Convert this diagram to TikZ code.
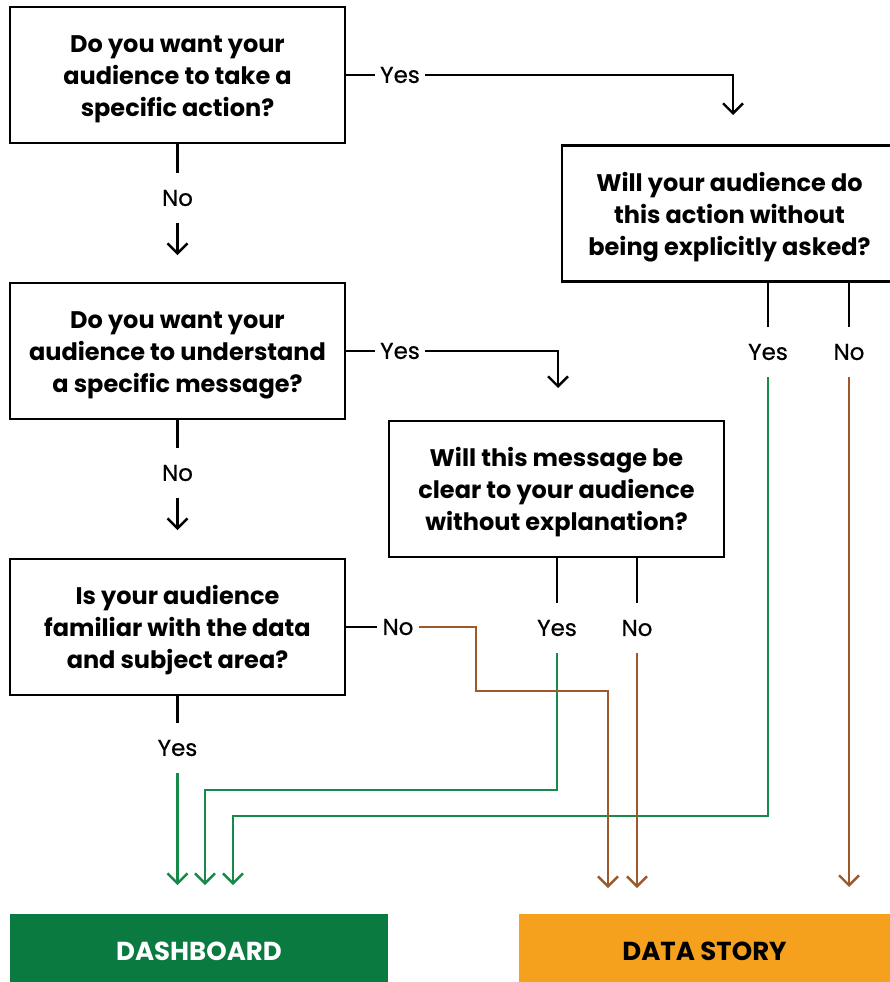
\documentclass[tikz,border=0pt]{standalone}
\usepackage{fontspec}
\setmainfont{Poppins}
\newfontfamily\lblfont{Poppins}[FakeBold=0.6]
\usetikzlibrary{arrows.meta}
\definecolor{dgreen}{HTML}{0A7A40}
\definecolor{lgreen}{HTML}{178A4A}
\definecolor{brownl}{HTML}{9C5A2C}
\definecolor{orangeb}{HTML}{F6A11E}
\newcommand{\toppad}{\rule{0pt}{26pt}}
\begin{document}
\begin{tikzpicture}[x=1pt,y=-1pt,
  qbox/.style={draw=black, line width=2.8pt, minimum width=335pt, minimum height=136pt,
    align=center, font=\fontsize{24}{32}\selectfont\bfseries, inner sep=0pt},
  lbl/.style={font=\lblfont\fontsize{23}{26}\selectfont, inner xsep=5pt, inner ysep=17pt},
  conn/.style={line width=2.4pt},
  arr/.style={conn, -{Straight Barb[length=10pt,width=20pt,line width=2.4pt]}},
  outbox/.style={minimum height=68pt, inner sep=0pt, font=\fontsize{26}{28}\selectfont\bfseries}]
\useasboundingbox (0,0) rectangle (890,982);

% question boxes
\node[qbox] (q1) at (177.5,75) {\toppad Do you want your\\audience to take a\\specific action?};
\node[qbox] (q2) at (177.5,351) {\toppad Do you want your\\audience to understand\\a specific message?};
\node[qbox] (q3) at (177.5,627) {\toppad Is your audience\\familiar with the data\\and subject area?};
\node[qbox] (q4) at (556.5,489) {\toppad Will this message be\\clear to your audience\\without explanation?};
\node[qbox] (q5) at (729.5,213.5) {\toppad Will your audience do\\this action without\\being explicitly asked?};

% outcome boxes
\node[outbox, fill=dgreen, minimum width=378pt, text=white] (dash) at (199,948) {\raisebox{-3pt}[18pt][0pt]{DASHBOARD}};
\node[outbox, fill=orangeb, minimum width=371pt, text=black] (story) at (704.5,948) {\raisebox{-3pt}[18pt][0pt]{DATA STORY}};

% labels
\node[lbl] (y1) at (400,75) {Yes};
\node[lbl] (n1) at (177.5,198) {No};
\node[lbl] (y2) at (400,351) {Yes};
\node[lbl] (n2) at (177.5,473) {No};
\node[lbl] (n3) at (398,627) {No};
\node[lbl] (y3) at (177.5,748) {Yes};
\node[lbl] (y4) at (557,628) {Yes};
\node[lbl] (n4) at (637,628) {No};
\node[lbl] (y5) at (768,352) {Yes};
\node[lbl] (n5) at (849,352) {No};

% free-end coordinates
\coordinate (c1) at (733,115);
\coordinate (a1) at (177.5,255);
\coordinate (c2) at (558,388);
\coordinate (a2) at (177.5,530);
\coordinate (a3) at (177.5,885);
\coordinate (g4) at (557,790);
\coordinate (a4) at (205,885);
\coordinate (g5) at (768,816);
\coordinate (a5) at (233,885);
\coordinate (b3a) at (476,627);
\coordinate (b3b) at (608,691);
\coordinate (a6) at (608,888);
\coordinate (a7) at (637,888);
\coordinate (a8) at (849,887);

% black connectors
\draw[conn] (q1) -- (y1);
\draw[arr] (y1) -| (c1);
\draw[conn] (q1.south) -- (n1);
\draw[arr] (n1) -- (a1);
\draw[conn] (q2) -- (y2);
\draw[arr] (y2) -| (c2);
\draw[conn] (q2.south) -- (n2);
\draw[arr] (n2) -- (a2);
\draw[conn] (q3) -- (n3);
\draw[conn] (q3.south) -- (y3);
\draw[conn] (q4.south -| y4) -- (y4);
\draw[conn] (q4.south -| n4) -- (n4);
\draw[conn] (q5.south -| y5) -- (y5);
\draw[conn] (q5.south -| n5) -- (n5);

% green connectors
\draw[arr, lgreen] (y3) -- (a3);
\draw[arr, lgreen] (y4) -- (g4) -| (a4);
\draw[arr, lgreen] (y5) -- (g5) -| (a5);

% brown connectors
\draw[arr, brownl] (n3) -- (b3a) |- (b3b) -- (a6);
\draw[arr, brownl] (n4) -- (a7);
\draw[arr, brownl] (n5) -- (a8);
\end{tikzpicture}
\end{document}
